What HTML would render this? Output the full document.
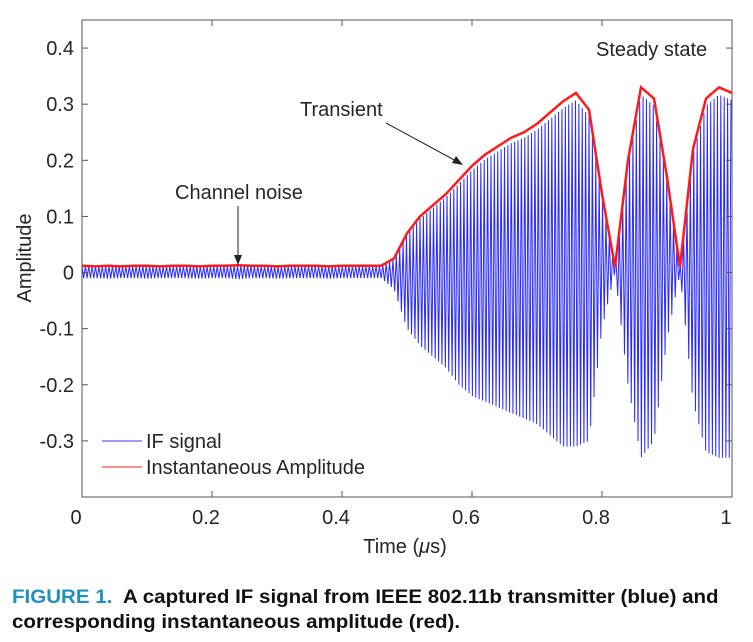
<!DOCTYPE html>
<html><head><meta charset="utf-8"><style>
body{margin:0;background:#fff;width:753px;height:642px;overflow:hidden;font-family:"Liberation Sans",sans-serif;}
svg text{font-family:"Liberation Sans",sans-serif;fill:#262626;}
.cap{position:absolute;left:12px;font-weight:bold;font-size:19px;color:#111;white-space:nowrap;transform-origin:0 0;transform:scaleX(1.08);}
</style></head><body>
<svg id="chart" width="753" height="580" style="position:absolute;left:0;top:0"></svg>
<div class="cap" style="top:587px"><span style="color:#1f8fbf">FIGURE 1.</span>&nbsp; A captured IF signal from IEEE 802.11b transmitter (blue) and</div>
<div class="cap" style="top:612px">corresponding instantaneous amplitude (red).</div>
<script>
const times=[0,0.02,0.04,0.06,0.08,0.1,0.12,0.14,0.16,0.18,0.2,0.22,0.24,0.26,0.28,0.3,0.32,0.34,0.36,0.38,0.4,0.42,0.44,0.46,0.48,0.5,0.52,0.54,0.56,0.58,0.6,0.62,0.64,0.66,0.68,0.7,0.72,0.74,0.76,0.78,0.8,0.82,0.84,0.86,0.88,0.9,0.92,0.94,0.96,0.98,1.0];
const upperEnv=[0.012,0.011,0.012,0.011,0.012,0.012,0.011,0.012,0.012,0.011,0.012,0.012,0.013,0.012,0.012,0.011,0.012,0.012,0.012,0.011,0.012,0.012,0.012,0.012,0.025,0.07,0.1,0.12,0.14,0.165,0.19,0.21,0.225,0.24,0.25,0.265,0.285,0.305,0.32,0.29,0.14,0.01,0.2,0.33,0.31,0.17,0.01,0.22,0.31,0.33,0.32];
const lowerEnv=[-0.01,-0.01,-0.011,-0.01,-0.01,-0.011,-0.01,-0.01,-0.01,-0.011,-0.01,-0.01,-0.012,-0.01,-0.01,-0.011,-0.01,-0.01,-0.01,-0.011,-0.01,-0.01,-0.01,-0.01,-0.03,-0.1,-0.13,-0.15,-0.17,-0.2,-0.22,-0.23,-0.24,-0.25,-0.26,-0.27,-0.29,-0.31,-0.31,-0.3,-0.1,0,-0.2,-0.33,-0.3,-0.12,0,-0.23,-0.32,-0.33,-0.33];
const xTicks=[0,0.2,0.4,0.6,0.8,1];
const xTickLabels=["0","0.2","0.4","0.6","0.8","1"];
const yTicks=[-0.3,-0.2,-0.1,0,0.1,0.2,0.3,0.4];
const yTickLabels=["-0.3","-0.2","-0.1","0","0.1","0.2","0.3","0.4"];
const carrierPeriod=0.0052;

const L=82,R=732,T=20,B=497,ymin=-0.4,ymax=0.45;
const xs=v=>L+(v-0)/(1-0)*(R-L);
const ys=v=>B-(v-ymin)/(ymax-ymin)*(B-T);
const svg=document.getElementById('chart');
const NS='http://www.w3.org/2000/svg';
function mk(tag,attrs,parent){const e=document.createElementNS(NS,tag);for(const k in attrs)e.setAttribute(k,attrs[k]);(parent||svg).appendChild(e);return e;}
function envAt(arr,t){let i=Math.min(Math.floor(t/0.02),times.length-2);const f=(t-times[i])/(times[i+1]-times[i]);return arr[i]+(arr[i+1]-arr[i])*f;}

const box=mk('rect',{x:L,y:T,width:R-L,height:B-T,fill:'#fff',stroke:'#555','stroke-width':1});



let pts=[];let half=carrierPeriod/2;let k=0;
for(let t=0;t<=1.0001;t+=half){const tt=Math.min(t,1);const v=(k%2===0)?envAt(upperEnv,tt)*0.96:envAt(lowerEnv,tt);pts.push(xs(tt).toFixed(2)+','+ys(v).toFixed(2));k++;}
const blue=mk('polyline',{points:pts.join(' '),fill:'none',stroke:'#2a2aff','stroke-width':1});



const rp=times.map((t,i)=>xs(t).toFixed(2)+','+ys(upperEnv[i]).toFixed(2));
const red=mk('polyline',{points:rp.join(' '),fill:'none',stroke:'#ff1a1a','stroke-width':2.5});



const FS=20;
xTicks.forEach((v,i)=>{
 mk('line',{x1:xs(v),x2:xs(v),y1:B,y2:B-6,stroke:'#555'});
 mk('line',{x1:xs(v),x2:xs(v),y1:T,y2:T+6,stroke:'#555'});
 const t=mk('text',{x:xs(v)-6,y:B+27,'text-anchor':'middle','font-size':FS});t.textContent=xTickLabels[i];
 
 
});
yTicks.forEach((v,i)=>{
 mk('line',{x1:L,x2:L+6,y1:ys(v),y2:ys(v),stroke:'#555'});
 mk('line',{x1:R,x2:R-6,y1:ys(v),y2:ys(v),stroke:'#555'});
 const t=mk('text',{x:L-8,y:ys(v)+7,'text-anchor':'end','font-size':FS});t.textContent=yTickLabels[i];
 
 
});
const xl=mk('text',{x:405,y:553,'text-anchor':'middle','font-size':FS});xl.innerHTML='Time (<tspan font-style="italic">μ</tspan>s)';


const yl=mk('text',{x:0,y:0,'text-anchor':'middle','font-size':FS,transform:'translate(31,258) rotate(-90)'});yl.textContent='Amplitude';



function ann(txt,x,y,name){const t=mk('text',{x:x,y:y,'font-size':FS});t.textContent=txt;}
ann('Steady state',596,56,'steady-state-label');
ann('Transient',300,116,'transient-label');
ann('Channel noise',175,199,'channel-noise-label');
mk('line',{x1:386,y1:123,x2:458,y2:162,stroke:'#222','stroke-width':1});
mk('polygon',{points:'463,165 452,163 456,156',fill:'#222'});
mk('line',{x1:238,y1:206,x2:238,y2:258,stroke:'#222','stroke-width':1});
mk('polygon',{points:'238,265 234,255 242,255',fill:'#222'});

const lg=mk('g',{});


mk('line',{x1:102,x2:142,y1:441,y2:441,stroke:'#3a3aff','stroke-width':1},lg);
mk('line',{x1:102,x2:142,y1:467,y2:467,stroke:'#ff1a1a','stroke-width':1},lg);
const l1=mk('text',{x:146,y:448,'font-size':FS},lg);l1.textContent='IF signal';


const l2=mk('text',{x:146,y:474,'font-size':FS},lg);l2.textContent='Instantaneous Amplitude';


</script>
</body></html>
